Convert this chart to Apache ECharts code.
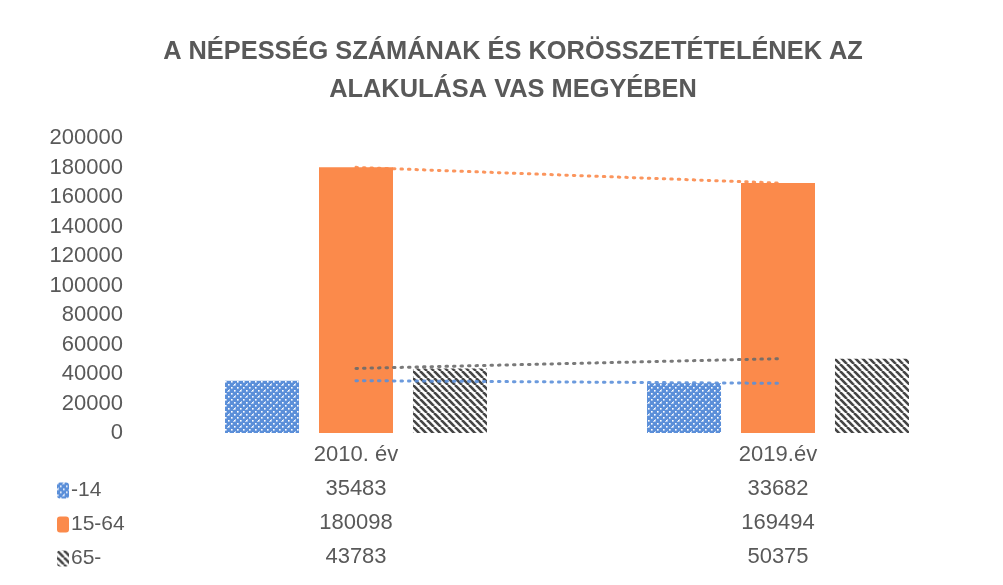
<!DOCTYPE html>
<html><head><meta charset="utf-8">
<script src="https://cdn.jsdelivr.net/npm/echarts@6/dist/echarts.min.js"></script>
<style>html,body{margin:0;padding:0;background:#fff}#c{width:1003px;height:585px}</style>
</head><body><div id="c"></div>
<script>
const categories = ['2010. év', '2019.év'];
const seriesNames = ['-14', '15-64', '65-'];
const young = [35483, 33682];
const working = [180098, 169494];
const old = [43783, 50375];
const yTicks = [0, 20000, 40000, 60000, 80000, 100000, 120000, 140000, 160000, 180000, 200000];
const titleText = 'A NÉPESSÉG SZÁMÁNAK ÉS KORÖSSZETÉTELÉNEK AZ\nALAKULÁSA VAS MEGYÉBEN';

const FONT = "'Liberation Sans', Arial, sans-serif";
const TXT = '#595959';
const BLUE = '#5b8fd9';
const ORANGE = '#fb8a4b';
const DARK = '#454545';

function bluePattern() {
  const c = document.createElement('canvas'); c.width = 12; c.height = 12;
  const g = c.getContext('2d');
  g.fillStyle = BLUE; g.fillRect(0, 0, 12, 12);
  g.fillStyle = '#ffffff';
  const pts = [[0,0],[3,3],[6,6],[9,9],[9,3],[3,9],[6,0],[0,6]];
  pts.forEach(p => g.fillRect(p[0], p[1], 1.6, 1.6));
  g.fillStyle = 'rgba(255,255,255,0.6)';
  [[1,5],[5,1],[7,11],[11,7]].forEach(p => g.fillRect(p[0], p[1], 1, 1));
  return c;
}
function stripePattern() {
  const s = 7;
  const c = document.createElement('canvas'); c.width = s; c.height = s;
  const g = c.getContext('2d');
  g.fillStyle = '#ffffff'; g.fillRect(0, 0, s, s);
  g.strokeStyle = DARK; g.lineWidth = 2.6;
  [-s, 0, s].forEach(o => { g.beginPath(); g.moveTo(o, 0); g.lineTo(o + s, s); g.stroke(); });
  return c;
}

const chart = echarts.init(document.getElementById('c'), null, {renderer: 'canvas'});
const barColors = [
  {image: bluePattern(), repeat: 'repeat'},
  ORANGE,
  {image: stripePattern(), repeat: 'repeat'}
];
const barData = [young, working, old];
const lineColors = [BLUE, ORANGE, '#6a6a6a'];

const series = [];
barData.forEach((d, i) => {
  series.push({
    name: seriesNames[i], type: 'bar', data: d, barWidth: 74, barGap: '27%',
    itemStyle: {color: barColors[i]}, z: 2, animation: false
  });
});
barData.forEach((d, i) => {
  series.push({
    name: 'trend ' + seriesNames[i], type: 'line', data: d, symbol: 'none',
    lineStyle: {color: lineColors[i], width: 3, type: [1.5, 6], cap: 'round', opacity: 0.9},
    z: 3, animation: false
  });
});

chart.setOption({
  animation: false,
  title: {
    text: titleText, left: 513, top: 33, textAlign: 'center', padding: 0,
    textStyle: {fontFamily: FONT, fontWeight: 'bold', fontSize: 25.4, color: TXT, lineHeight: 38}
  },
  legend: {
    data: seriesNames, orient: 'vertical', left: 57, top: 480, height: 110, padding: 0,
    itemWidth: 12, itemHeight: 16, itemGap: 13, selectedMode: false,
    textStyle: {fontFamily: FONT, fontSize: 21, color: TXT, lineHeight: 16, padding: [0, 0, 0, -3]}
  },
  grid: {left: 145, right: 14, top: 138, bottom: 152, containLabel: false},
  xAxis: {
    type: 'category', data: categories,
    axisLine: {show: false}, axisTick: {show: false},
    axisLabel: {
      interval: 0, margin: 5, fontFamily: FONT, fontSize: 22, color: TXT, lineHeight: 34,
      formatter: (v, idx) => [v, young[idx], working[idx], old[idx]].join('\n')
    }
  },
  yAxis: {
    type: 'value', min: yTicks[0], max: yTicks[yTicks.length - 1], interval: yTicks[1] - yTicks[0],
    axisLine: {show: false}, axisTick: {show: false}, splitLine: {show: false},
    axisLabel: {margin: 22, fontFamily: FONT, fontSize: 22, color: TXT, formatter: v => String(v)}
  },
  series: series
});
</script></body></html>
